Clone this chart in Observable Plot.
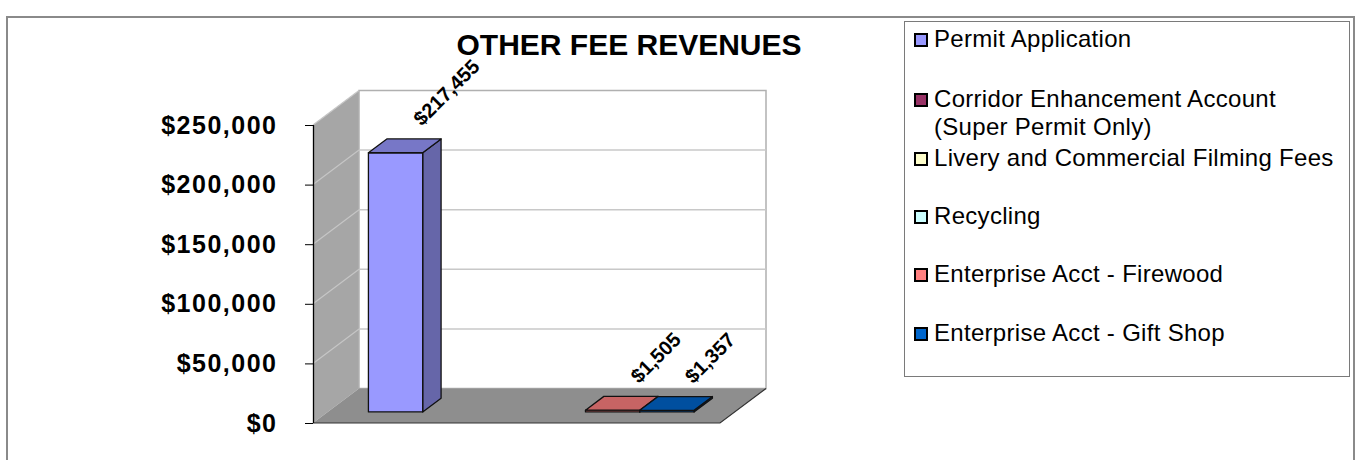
<!DOCTYPE html>
<html>
<head>
<meta charset="utf-8">
<script src="https://cdn.jsdelivr.net/npm/d3@7"></script>
<script src="https://cdn.jsdelivr.net/npm/@observablehq/plot@0.6"></script>
<style>
  html, body { margin: 0; padding: 0; background: #fff; }
  #wrap { position: relative; width: 1359px; height: 460px; overflow: hidden; font-family: "Liberation Sans", Arial, sans-serif; }
  #chart { position: absolute; left: 0; top: 0; }
  #frame { position: absolute; left: 6px; top: 16px; width: 1349px; height: 460px; border: 2px solid #8a8a8a; box-sizing: border-box; }
  #title { position: absolute; left: 379px; width: 500px; top: 29px; text-align: center; font-weight: bold; font-size: 30px; line-height: 32px; color: #000; white-space: nowrap; }
  #legend { position: absolute; left: 904px; top: 21px; width: 446px; height: 356px; border: 1px solid #7a7a7a; box-sizing: border-box; background: #fff; }
  .item { position: absolute; left: 9px; font-size: 24px; letter-spacing: 0.3px; line-height: 28px; color: #000; white-space: nowrap; }
  .sw { position: absolute; left: 0; top: 8px; width: 10px; height: 10px; border: 2px solid #000; }
  .txt { position: absolute; left: 20px; top: 0; }
  g[aria-label="y-axis tick label"] text { font-weight: bold; letter-spacing: 1.5px; }
</style>
</head>
<body>
<div id="wrap">
  <div id="chart"></div>
  <div id="frame"></div>
  <div id="title"></div>
  <div id="legend"></div>
</div>
<script>
// ---------- data ----------
const chartTitle = "OTHER FEE REVENUES";
const seriesNames = [
  "Permit Application",
  "Corridor Enhancement Account (Super Permit Only)",
  "Livery and Commercial Filming Fees",
  "Recycling",
  "Enterprise Acct - Firewood",
  "Enterprise Acct - Gift Shop"
];
const legendLines = [
  ["Permit Application"],
  ["Corridor Enhancement Account", "(Super Permit Only)"],
  ["Livery and Commercial Filming Fees"],
  ["Recycling"],
  ["Enterprise Acct - Firewood"],
  ["Enterprise Acct - Gift Shop"]
];
const seriesValues = [217455, null, null, null, 1505, 1357];
const seriesColors = ["#9999FF", "#993366", "#FFFFCC", "#CCFFFF", "#FF8080", "#0066CC"];
const valueLabels = ["$217,455", "", "", "", "$1,505", "$1,357"];
const yTicks = [0, 50000, 100000, 150000, 200000, 250000];
const yMax = 250000;

// ---------- layout constants ----------
const gap = 0.75;                       // half of the 150% gap width (in bar widths)
const xMax = seriesNames.length + 2 * gap;
const DX = 46, DY = -34.5;              // 3D depth offset of the wall (px)
const F0 = 0.32, F1 = 0.72;             // bar depth position (fractions of depth)

const data = seriesNames.map((name, i) => ({
  name, value: seriesValues[i], color: seriesColors[i], label: valueLabels[i],
  x1: gap + i, x2: gap + i + 1, xc: gap + i + 0.5
}));
const bars = data.filter(d => d.value != null);

const pts = a => a.map(p => p.join(",")).join(" ");

function walls(index, scales) {
  const x = scales.x, y = scales.y;
  const g = d3.create("svg:g");
  const x0 = x(0), x1 = x(xMax), yb = y(0), yt = y(yMax);
  // side wall
  g.append("polygon").attr("points", pts([[x0, yt], [x0 + DX, yt + DY], [x0 + DX, yb + DY], [x0, yb]]))
    .attr("fill", "#a6a6a6");
  // back wall
  g.append("polygon").attr("points", pts([[x0 + DX, yt + DY], [x1 + DX, yt + DY], [x1 + DX, yb + DY], [x0 + DX, yb + DY]]))
    .attr("fill", "#fff").attr("stroke", "#b0b0b0").attr("stroke-width", 1.5);
  for (const t of yTicks) {
    if (t === 0) continue;
    const yy = y(t);
    if (t !== yMax) {
      g.append("line").attr("x1", x0 + DX).attr("x2", x1 + DX).attr("y1", yy + DY).attr("y2", yy + DY)
        .attr("stroke", "#c8c8c8").attr("stroke-width", 1.5);
    }
    g.append("line").attr("x1", x0).attr("x2", x0 + DX).attr("y1", yy).attr("y2", yy + DY)
      .attr("stroke", "#c6c6c6").attr("stroke-width", 1.2);
  }
  // floor
  g.append("polygon").attr("points", pts([[x0, yb], [x1, yb], [x1 + DX, yb + DY], [x0 + DX, yb + DY]]))
    .attr("fill", "#8e8e8e");
  g.append("polyline").attr("points", pts([[x0, yb], [x1, yb], [x1 + DX, yb + DY]]))
    .attr("fill", "none").attr("stroke", "#333").attr("stroke-width", 1.2);
  return g.node();
}

function boxes(index, scales) {
  const x = scales.x, y = scales.y;
  const g = d3.create("svg:g").attr("stroke", "#111").attr("stroke-width", 1.3).attr("stroke-linejoin", "round");
  for (const d of bars) {
    const xl = x(d.x1), xr = x(d.x2), yt = y(d.value), yb = y(0);
    const c = d3.color(d.color);
    const a0x = F0 * DX, a0y = F0 * DY, a1x = F1 * DX, a1y = F1 * DY;
    // right side
    g.append("polygon").attr("points", pts([[xr + a0x, yt + a0y], [xr + a1x, yt + a1y], [xr + a1x, yb + a1y], [xr + a0x, yb + a0y]]))
      .attr("fill", c.darker(1.15).formatHex());
    // front
    g.append("polygon").attr("points", pts([[xl + a0x, yt + a0y], [xr + a0x, yt + a0y], [xr + a0x, yb + a0y], [xl + a0x, yb + a0y]]))
      .attr("fill", d.color);
    // top
    g.append("polygon").attr("points", pts([[xl + a0x, yt + a0y], [xr + a0x, yt + a0y], [xr + a1x, yt + a1y], [xl + a1x, yt + a1y]]))
      .attr("fill", c.darker(0.7).formatHex());
  }
  return g.node();
}

const chart = Plot.plot({
  width: 1359,
  height: 460,
  marginLeft: 313,
  marginRight: 639,
  marginTop: 125,
  marginBottom: 37,
  style: { fontFamily: "'Liberation Sans', Arial, sans-serif", background: "transparent", color: "#000" },
  x: { type: "linear", domain: [0, xMax], axis: null },
  y: { domain: [0, yMax], axis: null },
  marks: [
    walls,
    boxes,
    Plot.ruleX([0], { y1: 0, y2: yMax, stroke: "#000", strokeWidth: 1.3 }),
    Plot.axisY({
      ticks: yTicks,
      tickFormat: d => "$" + d3.format(",")(d),
      tickSize: 8,
      tickPadding: 28,
      fontSize: 25,
      label: null,
      stroke: "#000"
    }),
    Plot.text(bars, {
      x: "xc", y: "value", text: "label",
      rotate: -45, textAnchor: "start", dx: 36, dy: -42,
      fontSize: 20, fontWeight: "bold", fill: "#000"
    })
  ]
});
document.getElementById("chart").appendChild(chart);

// ---------- title ----------
document.getElementById("title").textContent = chartTitle;

// ---------- legend ----------
const legend = document.getElementById("legend");
const itemTops = [3, 63, 122, 180, 238, 297];
legendLines.forEach((lines, i) => {
  const it = document.createElement("div");
  it.className = "item";
  it.style.top = itemTops[i] + "px";
  const sw = document.createElement("div");
  sw.className = "sw";
  sw.style.background = seriesColors[i];
  it.appendChild(sw);
  const tx = document.createElement("div");
  tx.className = "txt";
  tx.innerHTML = lines.map(s => s.replace(/&/g, "&amp;")).join("<br>");
  it.appendChild(tx);
  legend.appendChild(it);
});
</script>
</body>
</html>
